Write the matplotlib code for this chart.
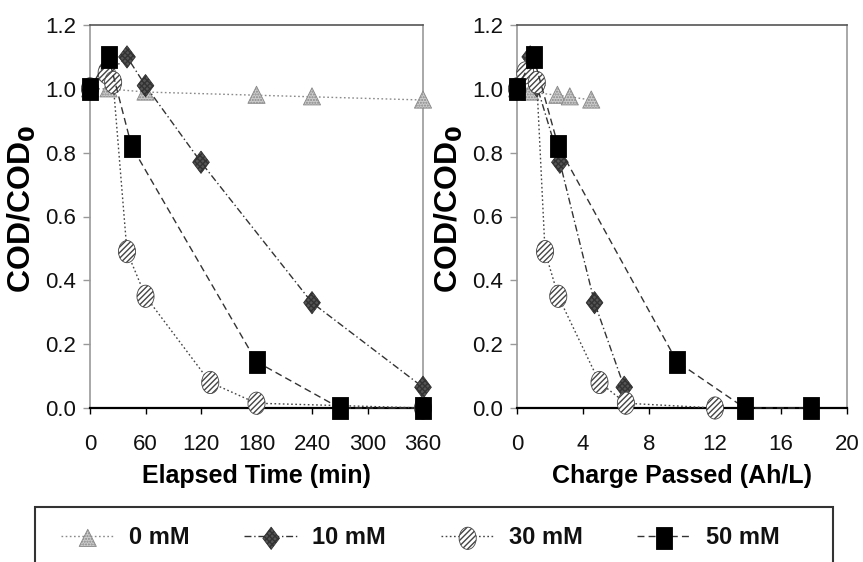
import matplotlib
matplotlib.use("Agg")
import matplotlib.pyplot as plt
import numpy as np
from matplotlib.path import Path
from matplotlib.legend_handler import HandlerTuple
from matplotlib.patches import Rectangle

# ---------------- data ----------------
labels = ["0 mM", "10 mM", "30 mM", "50 mM"]

t0 = [0, 20, 60, 180, 240, 360]
q0 = [0, 0.3, 0.8, 2.45, 3.2, 4.5]
y0 = [1.0, 1.0, 0.99, 0.98, 0.975, 0.965]

t10 = [0, 40, 60, 120, 240, 360]
q10 = [0, 0.8, 1.2, 2.6, 4.7, 6.5]
y10 = [1.0, 1.1, 1.01, 0.77, 0.33, 0.065]

t30 = [0, 18, 25, 40, 60, 130, 180, 360]
q30 = [0, 0.5, 1.2, 1.7, 2.5, 5.0, 6.6, 12.0]
y30 = [1.0, 1.05, 1.02, 0.49, 0.35, 0.08, 0.015, 0.0]

t50 = [0, 20, 45, 180, 270, 360]
q50 = [0, 1.0, 2.5, 9.7, 13.8, 17.8]
y50 = [1.0, 1.1, 0.82, 0.145, 0.0, 0.0]

time_ticks = [0, 60, 120, 180, 240, 300, 360]
charge_ticks = [0, 4, 8, 12, 16, 20]
y_ticks = [0.0, 0.2, 0.4, 0.6, 0.8, 1.0, 1.2]

# ---------------- styles ----------------
plt.rcParams['font.family'] = ['Liberation Sans', 'DejaVu Sans']
plt.rcParams['hatch.linewidth'] = 1.0
plt.rcParams['hatch.color'] = 'black'

tri = Path([(0, 1), (0.95, -0.9), (-0.95, -0.9), (0, 1)],
           [Path.MOVETO, Path.LINETO, Path.LINETO, Path.CLOSEPOLY])
dia = Path([(0, 1), (0.75, 0), (0, -1), (-0.75, 0), (0, 1)],
           [Path.MOVETO, Path.LINETO, Path.LINETO, Path.LINETO, Path.CLOSEPOLY])
uc = Path.unit_circle()
ell = Path(uc.vertices * np.array([0.77, 1.0]), uc.codes)
sq = Path([(-0.68, -1), (0.68, -1), (0.68, 1), (-0.68, 1), (-0.68, -1)],
          [Path.MOVETO, Path.LINETO, Path.LINETO, Path.LINETO, Path.CLOSEPOLY])

styles = [
    dict(marker=tri, s=13 ** 2, fc='#cccccc', ec='#888888', hatch='......',
         lc='#8a8a8a', ls=(0, (1.2, 1.8)), lw=1.0),
    dict(marker=dia, s=16 ** 2, fc='#555555', ec='#333333', hatch='xxxxxx',
         lc='#333333', ls=(0, (5, 2, 1, 2)), lw=1.0),
    dict(marker=ell, s=16 ** 2, fc='white', ec='#444444', hatch='//////',
         lc='#444444', ls=(0, (1.2, 1.8)), lw=1.0),
    dict(marker=sq, s=16 ** 2, fc='black', ec='black', hatch=None,
         lc='#333333', ls=(0, (5, 3)), lw=1.0),
]

W, H = 863, 562
fig = plt.figure(figsize=(W / 100, H / 100), dpi=100)

ax1 = fig.add_axes([90 / W, 1 - 408 / H, 333 / W, 383 / H])
ax2 = fig.add_axes([517 / W, 1 - 408 / H, 330 / W, 383 / H])

xs_time = [t0, t10, t30, t50]
xs_charge = [q0, q10, q30, q50]
ys = [y0, y10, y30, y50]

handles = []
for ax, xs in ((ax1, xs_time), (ax2, xs_charge)):
    for i, (x, y) in enumerate(zip(xs, ys)):
        st = styles[i]
        ln, = ax.plot(x, y, color=st['lc'], ls=st['ls'], lw=st['lw'],
                      zorder=2 + i, clip_on=False)
        sc = ax.scatter(x, y, s=st['s'], marker=st['marker'], facecolor=st['fc'],
                        edgecolor=st['ec'], linewidths=0.6, hatch=st['hatch'],
                        zorder=3 + i, clip_on=False)
        if ax is ax1:
            handles.append((ln, sc))

for ax, xt, xl, lab in ((ax1, time_ticks, (0, 360), "Elapsed Time (min)"),
                        (ax2, charge_ticks, (0, 20), "Charge Passed (Ah/L)")):
    ax.set_xlim(*xl)
    ax.set_ylim(0, 1.2)
    ax.set_xticks(xt)
    ax.set_xticklabels([str(v) for v in xt])
    ax.set_yticks(y_ticks)
    ax.set_yticklabels([f"{v:.1f}" for v in y_ticks])
    for s in ('left', 'right'):
        ax.spines[s].set_color('#999999')
        ax.spines[s].set_linewidth(1.2)
    ax.spines['top'].set_color('#555555')
    ax.spines['top'].set_linewidth(1.2)
    ax.spines['bottom'].set_color('black')
    ax.spines['bottom'].set_linewidth(1.6)
    ax.tick_params(axis='x', direction='out', length=4, width=1, color='black',
                   pad=15, labelsize=16, labelcolor='#111111')
    ax.tick_params(axis='y', direction='out', length=5, width=1, color='#999999',
                   pad=5, labelsize=16, labelcolor='#111111')
    ax.set_xlabel(lab, fontsize=18, fontweight='bold', labelpad=6)
    ax.set_ylabel(r"COD/COD$_\mathbf{0}$", fontsize=23, fontweight='bold',
                  va='center', ha='center')

ax1.yaxis.set_label_coords(-(90 - 22) / 333, 0.52)
ax2.yaxis.set_label_coords(-(517 - 449) / 330, 0.52)

# legend
leg = fig.legend(handles, labels, loc='center', ncol=4,
                 bbox_to_anchor=(420 / W, 1 - 538 / H), frameon=False,
                 prop=dict(size=17, weight='bold'),
                 handler_map={tuple: HandlerTuple(ndivide=1, pad=0)},
                 handlelength=2.3, handletextpad=0.6, columnspacing=2.3,
                 scatterpoints=1)
for t in leg.get_texts():
    t.set_color('#111111')

fig.patches.append(Rectangle((35 / W, -0.05), (833 - 35) / W, (562 - 507) / H + 0.05,
                             transform=fig.transFigure, fill=False,
                             edgecolor='#333333', linewidth=1.5))

fig.savefig("out.png", dpi=100)
